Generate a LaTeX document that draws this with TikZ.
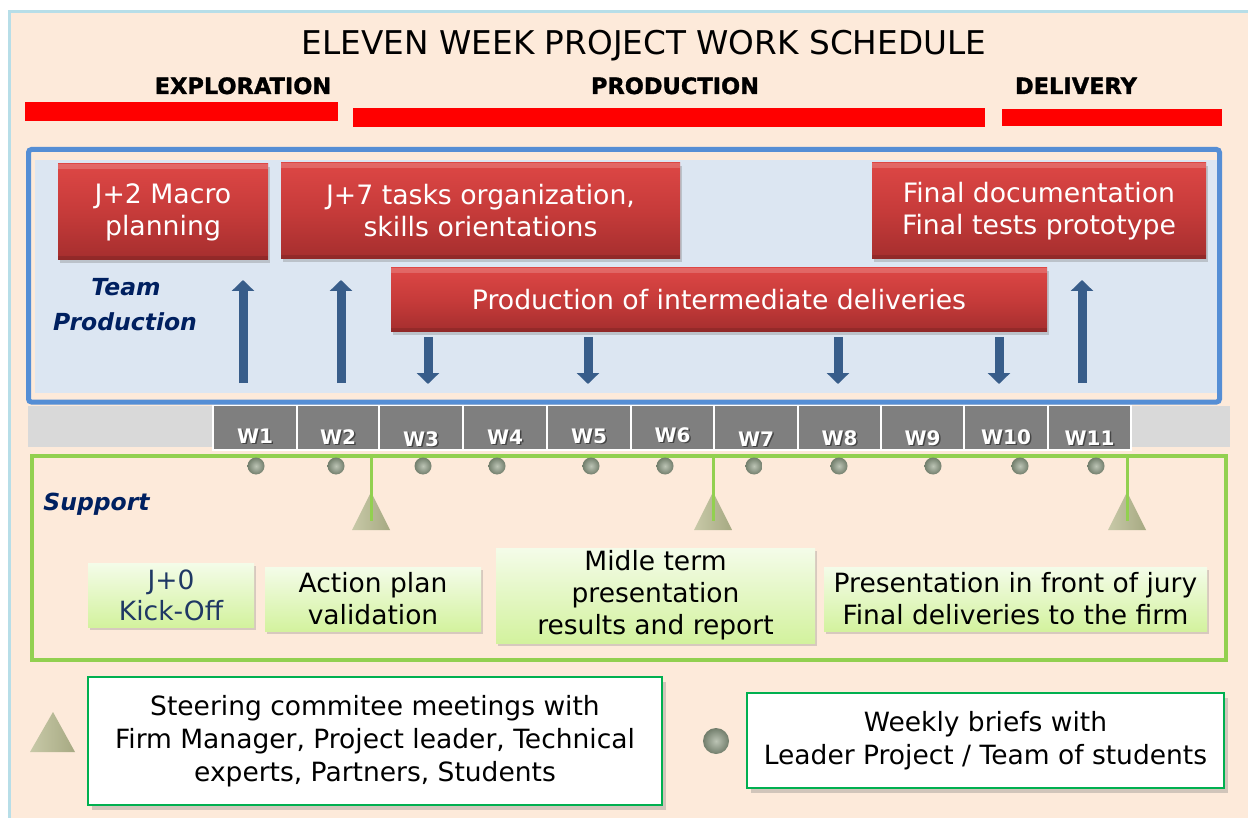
\documentclass[tikz,border=0pt]{standalone}
\usepackage{fontspec}
\setmainfont{DejaVu Sans}
\newfontfamily\heavyfont[FakeBold=1.4]{DejaVu Sans Bold}
\usetikzlibrary{arrows.meta,shadows,shadings}
\definecolor{peach}{HTML}{FDEADA}
\definecolor{cyanline}{HTML}{B7DEE8}
\definecolor{phasered}{HTML}{FF0000}
\definecolor{panelblue}{HTML}{DCE6F2}
\definecolor{frameblue}{HTML}{558ED5}
\definecolor{redtop}{HTML}{DD4745}
\definecolor{redmid}{HTML}{C63B3A}
\definecolor{redbot}{HTML}{A52E2E}
\definecolor{arrowblue}{HTML}{385D8A}
\definecolor{bandgray}{HTML}{D9D9D9}
\definecolor{cellgray}{HTML}{7F7F7F}
\definecolor{framegreen}{HTML}{92D050}
\definecolor{legendgreen}{HTML}{00B050}
\definecolor{greentop}{HTML}{F4FCE9}
\definecolor{greenbot}{HTML}{D3F29E}
\definecolor{navy}{HTML}{002060}
\definecolor{kicknavy}{HTML}{1F3864}
\definecolor{dotin}{HTML}{BCC4B5}
\definecolor{dotout}{HTML}{727E6C}
\definecolor{trilight}{HTML}{C8C9A8}
\definecolor{tridark}{HTML}{A6A982}
\newcommand\redfnt{\fontsize{26.7}{32}\selectfont}
\newcommand\grnfnt{\fontsize{26.5}{32}\selectfont}
\newcommand\legfnt{\fontsize{26.5}{33}\selectfont}
\begin{document}
\begin{tikzpicture}[x=1pt,y=-1pt,
  phase/.style={font=\fontsize{22.5}{26}\heavyfont, text=black, inner sep=0pt},
  redbox/.style={draw=none, top color=redtop, bottom color=redbot, middle color=redmid,
    text=white, font=\redfnt, align=center, inner sep=0pt,
    drop shadow={shadow xshift=2pt, shadow yshift=-3pt, opacity=0.35},
    path picture={\fill[white,opacity=0.18] (path picture bounding box.north west) rectangle ([yshift=-5pt]path picture bounding box.north east);
                  \fill[black,opacity=0.12] (path picture bounding box.south west) rectangle ([yshift=4pt]path picture bounding box.south east);}},
  greenbox/.style={draw=none, top color=greentop, bottom color=greenbot,
    text=black, font=\grnfnt, align=center, inner sep=0pt,
    drop shadow={shadow xshift=2pt, shadow yshift=-3pt, opacity=0.3}},
  legendbox/.style={draw=legendgreen, line width=2pt, fill=white, text=black,
    font=\legfnt, align=center, inner sep=0pt,
    drop shadow={shadow xshift=4pt, shadow yshift=-5pt, opacity=0.35}},
  teamlabel/.style={font=\fontsize{23.5}{26}\selectfont\bfseries\itshape, text=navy, inner sep=0pt},
  weekcell/.style={fill=cellgray, draw=white, line width=1.5pt},
  weeklabel/.style={font=\fontsize{20}{22}\selectfont\bfseries, text=white, inner sep=0pt},
  weekshadow/.style={font=\fontsize{20}{22}\selectfont\bfseries, text=black, opacity=0.45, inner sep=0pt},
  uparrow/.style={draw=arrowblue, line width=9pt, -{Triangle[width=22pt,length=11pt]}},
  downarrow/.style={draw=arrowblue, line width=9pt, -{Triangle[width=22pt,length=11pt]}},
  greenline/.style={draw=framegreen, line width=3pt},
  steer/.style={left color=trilight, right color=tridark},
  brief/.style={inner color=dotin, outer color=dotout}
]
\useasboundingbox (0,0) rectangle (1248,818);
\fill[white] (0,0) rectangle (1248,818);
\draw[cyanline, line width=3pt, fill=peach] (9.5,11.5) rectangle (1262,832);

% title and phases
\node[font=\fontsize{32.7}{36}\selectfont, anchor=base, inner sep=0pt] (title) at (644,55) {ELEVEN WEEK PROJECT WORK SCHEDULE};
\node[phase, anchor=base] (lexp) at (243,94) {EXPLORATION};
\node[phase, anchor=base] (lprod) at (675,94) {PRODUCTION};
\node[phase, anchor=base] (ldel) at (1076,94) {DELIVERY};
\fill[phasered] (25,102) rectangle (338,121);
\fill[phasered] (353,108) rectangle (985,127);
\fill[phasered] (1002,109) rectangle (1222,126);

% team production panel
\fill[panelblue] (35,160) rectangle (1217,393);
\draw[frameblue, line width=5pt, rounded corners=3pt] (28.5,149.5) rectangle (1219.5,402);

\node[redbox, minimum width=210pt, minimum height=96pt] (macro) at (163,212) {J+2 Macro\\planning};
\node[redbox, minimum width=399pt, minimum height=96pt] (tasks) at (480.5,211) {J+7 tasks organization,\\skills orientations};
\node[redbox, minimum width=334pt, minimum height=96pt] (final) at (1039,211) {Final documentation\\Final tests prototype};
\node[redbox, minimum width=656pt, minimum height=64pt] (inter) at (719,300) {Production of intermediate deliveries};

\node[teamlabel, anchor=base] (team) at (126,296) {Team};
\node[teamlabel, anchor=base] (prodlab) at (125,331) {Production};

% arrows
\coordinate (u1s) at (243,383); \coordinate (u1e) at (243,280);
\coordinate (u2s) at (341,383); \coordinate (u2e) at (341,280);
\coordinate (u3s) at (1082,383); \coordinate (u3e) at (1082,280);
\draw[uparrow] (u1s) -- (u1e);
\draw[uparrow] (u2s) -- (u2e);
\draw[uparrow] (u3s) -- (u3e);
\coordinate (d1s) at (428,337); \coordinate (d1e) at (428,384);
\coordinate (d2s) at (588,337); \coordinate (d2e) at (588,384);
\coordinate (d3s) at (838,337); \coordinate (d3e) at (838,384);
\coordinate (d4s) at (999,337); \coordinate (d4e) at (999,384);
\draw[downarrow] (d1s) -- (d1e);
\draw[downarrow] (d2s) -- (d2e);
\draw[downarrow] (d3s) -- (d3e);
\draw[downarrow] (d4s) -- (d4e);

% week band
\fill[bandgray] (28,406) rectangle (1230,447);
\foreach \a/\b/\n/\yb in {213/297/1/443, 297/379/2/444, 379/463/3/446, 463/547/4/444,
  547/631/5/443, 631/714/6/442, 714/798/7/446, 798/881/8/445, 881/964/9/445,
  964/1048/10/444, 1048/1131/11/445}{
  \draw[weekcell] (\a,405.5) rectangle (\b,450);
  \node[weekshadow, anchor=base] (ws\n) at ({(\a+\b)/2+1.5},\yb+1.5) {W\n};
  \node[weeklabel, anchor=base] (w\n) at ({(\a+\b)/2},\yb) {W\n};
}

% support frame
\draw[framegreen, line width=4pt] (32,456) rectangle (1226,660);
\node[teamlabel, anchor=base] (support) at (96.5,510) {Support};

% weekly brief dots
\foreach \x in {256,336,423,497,591,665,754,839,933,1020,1096}{
  \shade[brief] (\x,466) circle (8.5);
}

% steering triangles
\foreach \x in {371,713,1127}{
  \shade[steer] (\x,492) -- (\x+19,530) -- (\x-19,530) -- cycle;
  \draw[greenline] (\x,456) -- (\x,521);
}

% support boxes
\node[greenbox, minimum width=166pt, minimum height=64pt, text=kicknavy, font=\fontsize{26.5}{31}\selectfont] (kick) at (171,595) {J+0\\Kick-Off};
\node[greenbox, minimum width=216pt, minimum height=64pt] (action) at (373,599) {Action plan\\validation};
\node[greenbox, minimum width=319pt, minimum height=95pt] (midle) at (655.5,595.5) {Midle term\\presentation\\results and report};
\node[greenbox, minimum width=383pt, minimum height=64pt] (jury) at (1015.5,599) {Presentation in front of jury\\Final deliveries to the firm};

% legend
\shade[steer] (53,712) -- (75,752) -- (30,752) -- cycle;
\node[legendbox, minimum width=574pt, minimum height=128pt] (legsteer) at (375,741) {Steering commitee meetings with\\Firm Manager, Project leader, Technical\\experts, Partners, Students};
\shade[brief] (716,741) circle (13);
\node[legendbox, minimum width=477pt, minimum height=95pt] (legbrief) at (985.5,740.5) {Weekly briefs with\\Leader Project / Team of students};
\end{tikzpicture}
\end{document}
